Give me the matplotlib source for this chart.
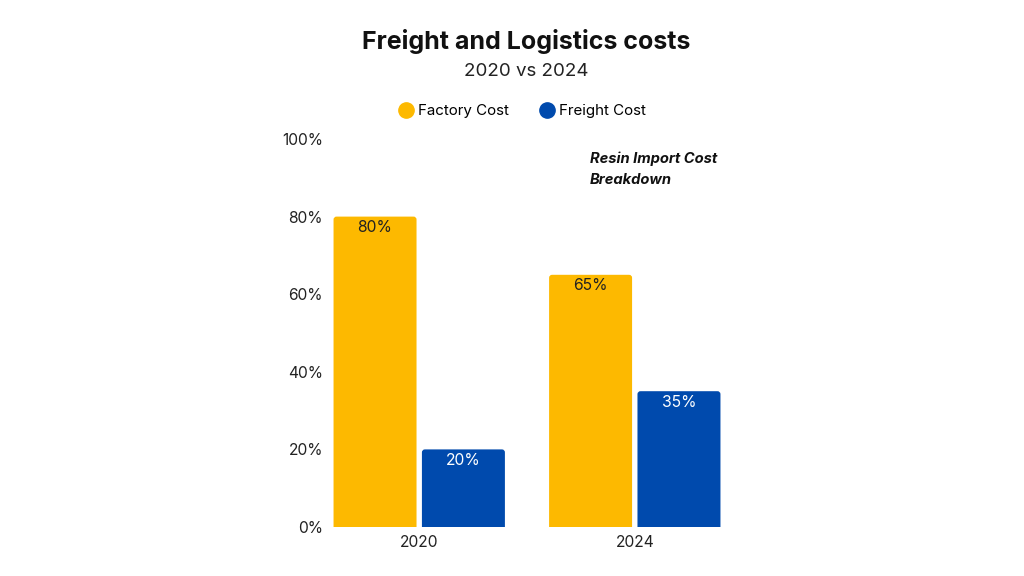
import matplotlib
matplotlib.use("Agg")
import matplotlib.pyplot as plt
import numpy as np
from matplotlib.patches import FancyBboxPatch

plt.rcParams['font.family'] = ['Inter', 'DejaVu Sans']

years = ["2020", "2024"]
factory_cost = [80, 65]
freight_cost = [20, 35]
series_names = ["Factory Cost", "Freight Cost"]
colors = ["#FDB900", "#004AAD"]
yticks = [0, 20, 40, 60, 80, 100]

fig = plt.figure(figsize=(10.24, 5.76), dpi=100)
ax_w_px, ax_h_px = 388, 388
ax = fig.add_axes([333/1024, 1-527/576, ax_w_px/1024, ax_h_px/576])

xlim = (-0.4, 1.4)
ylim = (0, 100)
px_per_x = ax_w_px / (xlim[1] - xlim[0])
px_per_y = ax_h_px / (ylim[1] - ylim[0])
r_px = 3.0
rx = r_px / px_per_x
ry = r_px / px_per_y

x = np.arange(len(years))
w = 0.385
off = 0.205
for vals, dx, col, name, tcol in [(factory_cost, -off, colors[0], series_names[0], "#222222"),
                                  (freight_cost, off, colors[1], series_names[1], "white")]:
    bars = ax.bar(x + dx, vals, width=w, color=col, label=name, alpha=0)
    for b, v in zip(bars, vals):
        p = FancyBboxPatch((b.get_x(), -5), b.get_width(), v + 5,
                           boxstyle=f"round,pad=0,rounding_size={rx}",
                           mutation_aspect=ry / rx, facecolor=col, edgecolor="none")
        ax.add_patch(p)
        ax.text(b.get_x() + b.get_width()/2, v - 2.8, f"{v}%", ha="center", va="center",
                fontsize=11.3, color=tcol)

ax.set_xlim(*xlim)
ax.set_ylim(*ylim)
ax.set_yticks(yticks)
ax.set_yticklabels([f"{t}%" for t in yticks])
ax.set_xticks(x)
ax.set_xticklabels(years)
ax.tick_params(axis="both", length=0, labelsize=11.2, colors="#222222")
ax.tick_params(axis="y", pad=7.2)
ax.tick_params(axis="x", pad=6)
for s in ax.spines.values():
    s.set_visible(False)

cx = 526.5 / 1024
fig.text(cx, 1-41.5/576, "Freight and Logistics costs", ha="center", va="center",
         fontsize=18, fontweight="bold", color="#111111")
fig.text(cx, 1-71.5/576, "2020 vs 2024", ha="center", va="center",
         fontsize=13.5, color="#222222")

handles = [plt.Line2D([], [], marker="o", linestyle="", markersize=11, color=c) for c in colors]
fig.legend(handles, series_names, loc="center", bbox_to_anchor=(522/1024, 1-111/576),
           ncol=2, frameon=False, fontsize=10.9, handletextpad=0.3, columnspacing=2.0,
           handlelength=1.0)

fig.text(590/1024, 1-158.5/576, "Resin Import Cost", ha="left", va="center",
         fontsize=10.6, fontweight="bold", style="italic", color="#111111")
fig.text(590/1024, 1-180.5/576, "Breakdown", ha="left", va="center",
         fontsize=10.6, fontweight="bold", style="italic", color="#111111")

fig.savefig("out.png", dpi=100, facecolor="white")
